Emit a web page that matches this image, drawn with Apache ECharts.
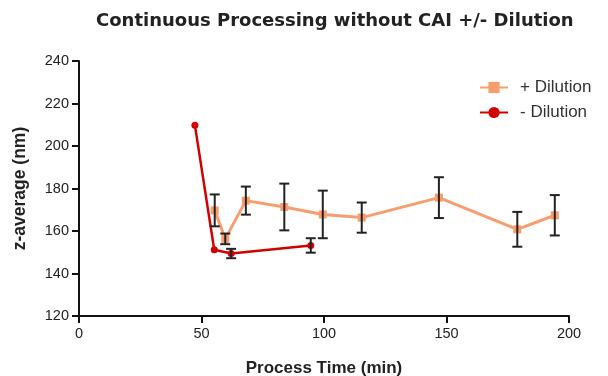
<!DOCTYPE html>
<html><head><meta charset="utf-8">
<script src="https://cdn.jsdelivr.net/npm/echarts@6/dist/echarts.min.js"></script>
<style>html,body{margin:0;padding:0;background:#fff}#c{width:608px;height:376px}</style>
</head><body><div id="c"></div>
<script>
var title = 'Continuous Processing without CAI +/- Dilution';
var xName = 'Process Time (min)';
var yName = 'z-average (nm)';
var plusTime = [55.4, 59.7, 68.1, 83.8, 99.5, 115.4, 146.9, 178.9, 194.2];
var plusMean = [169.7, 156.3, 174.3, 171.3, 167.8, 166.3, 175.7, 160.8, 167.4];
var plusErr  = [7.5, 2.5, 6.6, 11.0, 11.2, 7.1, 9.6, 8.2, 9.5];
var minusTime = [47.3, 55.2, 62.1, 94.6];
var minusMean = [209.8, 151.2, 149.4, 153.2];
var minusErr  = [0, 0, 2.2, 3.4];

function pairs(xs, ys){ return xs.map(function(x,i){return [x, ys[i]];}); }
function errData(xs, ys, es){ return xs.map(function(x,i){return [x, ys[i]-es[i], ys[i]+es[i]];}).filter(function(d){return d[2]>d[1];}); }
function errRender(params, api){
  var x = api.value(0), lo = api.value(1), hi = api.value(2);
  var pLo = api.coord([x, lo]), pHi = api.coord([x, hi]);
  var hw = 5;
  var st = {stroke:'#222', lineWidth:2};
  return {type:'group', children:[
    {type:'line', shape:{x1:pLo[0],y1:pLo[1],x2:pHi[0],y2:pHi[1]}, style:st},
    {type:'line', shape:{x1:pLo[0]-hw,y1:pLo[1],x2:pLo[0]+hw,y2:pLo[1]}, style:st},
    {type:'line', shape:{x1:pHi[0]-hw,y1:pHi[1],x2:pHi[0]+hw,y2:pHi[1]}, style:st}
  ]};
}
var font = 'Liberation Sans, Arial, sans-serif';
var chart = echarts.init(document.getElementById('c'));
chart.setOption({
  animation:false,
  backgroundColor:'#fff',
  title:{text:title, left:91, top:7, textStyle:{fontFamily:'DejaVu Sans, sans-serif', fontSize:18, fontWeight:'bold', color:'#222'}},
  grid:{left:79, right:39, top:61, bottom:60, containLabel:false, outerBoundsMode:'none'},
  legend:{left:474, top:74, orient:'vertical', itemWidth:28, itemHeight:14, itemGap:8,
    textStyle:{fontFamily:font, fontSize:17, color:'#333', padding:[0,0,0,7]},
    data:['+ Dilution','- Dilution']},
  xAxis:{type:'value', min:0, max:200, interval:50,
    name:xName, nameLocation:'middle', nameGap:44,
    nameTextStyle:{fontFamily:font, fontSize:17, fontWeight:'bold', color:'#222'},
    axisLine:{lineStyle:{color:'#111', width:2}},
    axisTick:{length:7, lineStyle:{color:'#111', width:2}},
    axisLabel:{fontFamily:font, fontSize:14.5, color:'#222', margin:10},
    splitLine:{show:false}},
  yAxis:{type:'value', min:120, max:240, interval:20,
    name:yName, nameLocation:'middle', nameGap:50,
    nameTextStyle:{fontFamily:font, fontSize:17.5, fontWeight:'bold', color:'#222'},
    axisLine:{show:true, lineStyle:{color:'#111', width:2}},
    axisTick:{show:true, length:7, lineStyle:{color:'#111', width:2}},
    axisLabel:{fontFamily:font, fontSize:14.5, color:'#222', margin:10},
    splitLine:{show:false}},
  series:[
    {name:'+ Dilution', type:'line', data:pairs(plusTime, plusMean), symbol:'rect', symbolSize:8,
      lineStyle:{color:'#F89E6E', width:3}, itemStyle:{color:'#F89E6E'}, z:2},
    {name:'- Dilution', type:'line', data:pairs(minusTime, minusMean), symbol:'circle', symbolSize:7,
      lineStyle:{color:'#D20000', width:2.5}, itemStyle:{color:'#D20000'}, z:3},
    {type:'custom', renderItem:errRender, data:errData(plusTime, plusMean, plusErr), z:4, silent:true},
    {type:'custom', renderItem:errRender, data:errData(minusTime, minusMean, minusErr), z:4, silent:true}
  ]
});
</script></body></html>
